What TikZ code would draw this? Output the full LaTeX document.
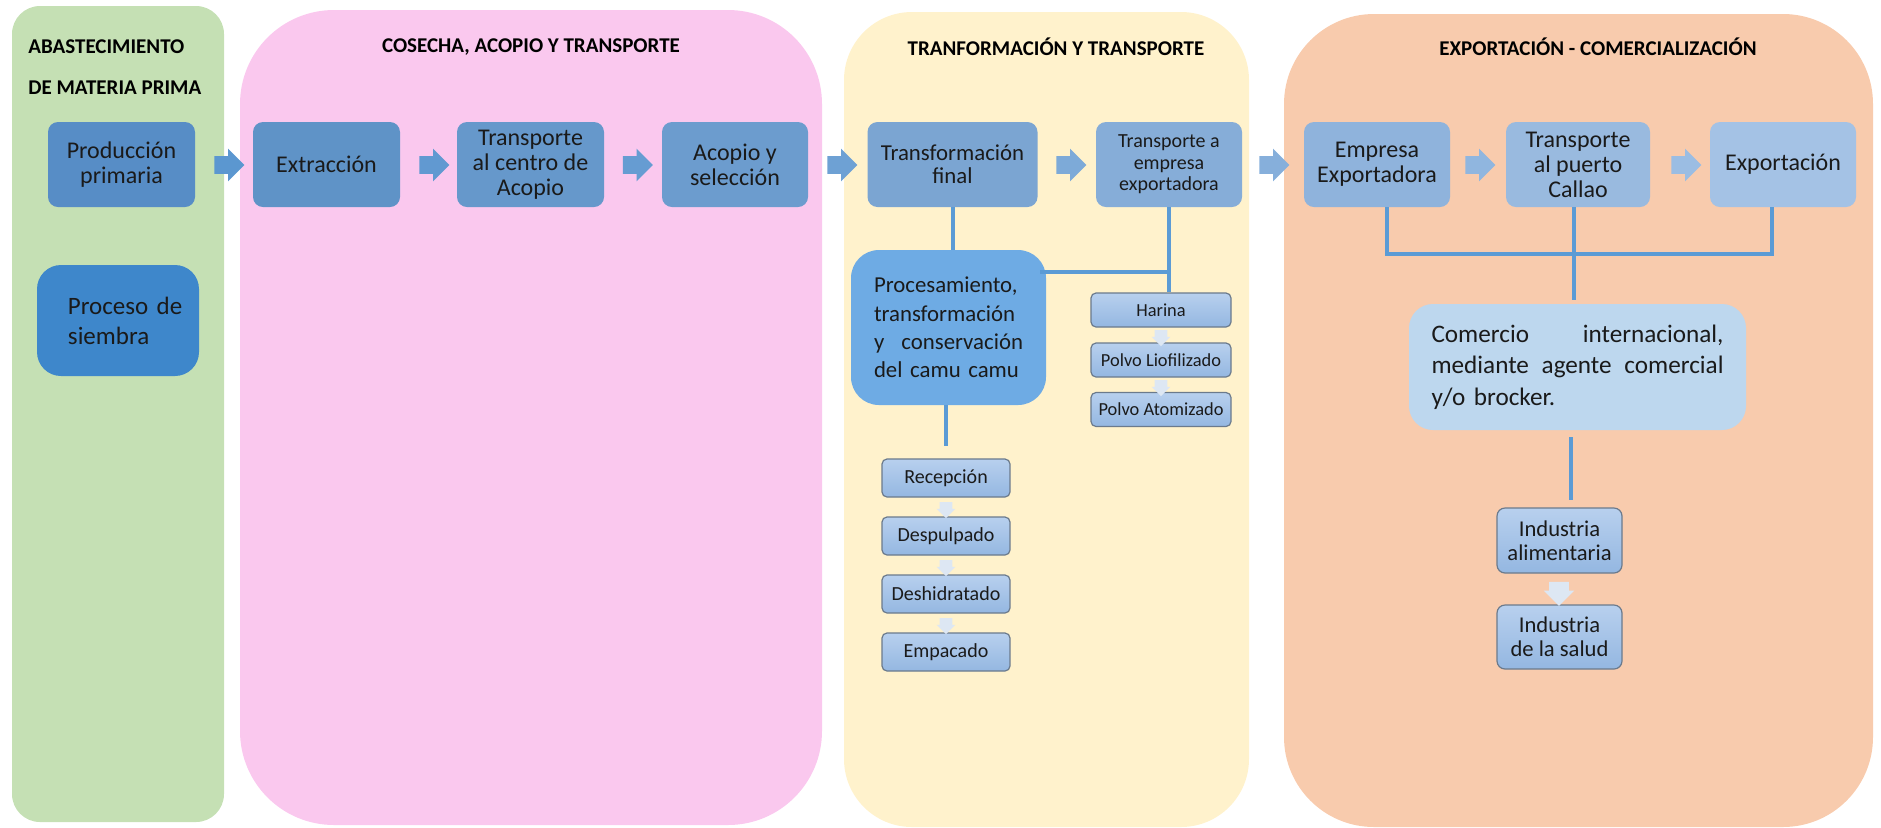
\documentclass[tikz,border=0pt]{standalone}
\usepackage{fontspec}
\setmainfont{Carlito}
\usetikzlibrary{shapes.arrows,calc}
\definecolor{pgreen}{HTML}{C5E0B4}
\definecolor{ppink}{HTML}{FAC8EE}
\definecolor{pyellow}{HTML}{FFF2CC}
\definecolor{porange}{HTML}{F8CBAD}
\definecolor{txt}{HTML}{1A1A1A}
\definecolor{b0}{HTML}{3E87CB}
\definecolor{b1}{HTML}{578DC6}
\definecolor{b2}{HTML}{5F93C7}
\definecolor{b3}{HTML}{6698CB}
\definecolor{b4}{HTML}{6C9CCE}
\definecolor{b5}{HTML}{7BA5D2}
\definecolor{b6}{HTML}{86ADD8}
\definecolor{b7}{HTML}{8FB3DC}
\definecolor{b8}{HTML}{99BADF}
\definecolor{b9}{HTML}{A4C2E5}
\definecolor{bproc}{HTML}{6EABE4}
\definecolor{bcom}{HTML}{BDD7EE}
\definecolor{a1}{HTML}{5B97D0}
\definecolor{a2}{HTML}{6199D1}
\definecolor{a3}{HTML}{669CD2}
\definecolor{a4}{HTML}{6EA1D4}
\definecolor{a5}{HTML}{7DAAD8}
\definecolor{a6}{HTML}{86AFDB}
\definecolor{a7}{HTML}{90B6DF}
\definecolor{a8}{HTML}{9BBDE3}
\definecolor{subtop}{HTML}{B8D0EE}
\definecolor{subbot}{HTML}{94B7E1}
\definecolor{subedge}{HTML}{6B7A8C}
\definecolor{arrpale}{HTML}{DDE7F3}
\definecolor{linkc}{HTML}{5B9BD5}
\tikzset{stage/.style={rectangle,rounded corners=5pt,align=center,inner sep=1pt,text=txt,font=\fontsize{12}{12.5}\selectfont,minimum height=42.5pt},
  sub/.style={rectangle,rounded corners=2.5pt,draw=subedge,line width=0.6pt,top color=subtop,bottom color=subbot,align=center,text=txt,inner sep=1pt},
  harr/.style={single arrow,single arrow head extend=3.75pt,minimum height=15pt,inner xsep=0pt,inner ysep=4.25pt},
  varr/.style={single arrow,rotate=-90,single arrow head extend=1.5pt,minimum height=8pt,inner xsep=0pt,inner ysep=3pt,fill=arrpale},
  link/.style={draw=linkc,line width=2pt},
  ttl/.style={font=\bfseries\fontsize{10.5}{12}\selectfont,text=black,inner sep=0pt}}

\begin{document}
\begin{tikzpicture}[x=0.5pt,y=-0.5pt]
  \useasboundingbox (0,0) rectangle (1881,827);
  % stage panels
  \fill[pgreen,rounded corners=14pt] (12,6) rectangle (224,822);
  \fill[ppink,rounded corners=47pt] (240,10) rectangle (822,825);
  \fill[pyellow,rounded corners=34pt] (844,12) rectangle (1249,827);
  \fill[porange,rounded corners=45pt] (1284,14) rectangle (1873,827);
  \node[ttl,anchor=west] (t1a) at (28,47) {ABASTECIMIENTO};
  \node[ttl,anchor=west] (t1b) at (28,88) {DE MATERIA PRIMA};
  \node[ttl] (t2) at (531,47) {COSECHA, ACOPIO Y TRANSPORTE};
  \node[ttl] (t3) at (1056,47) {TRANFORMACIÓN Y TRANSPORTE};
  \node[ttl] (t4) at (1598,47) {EXPORTACIÓN - COMERCIALIZACIÓN};
  % main row
  \node[stage,fill=b1,minimum width=73.5pt] (prod) at (121.5,164.5) {Producción\\primaria};
  \node[stage,fill=b2,minimum width=73.5pt] (ext) at (326.5,164.5) {Extracción};
  \node[stage,fill=b3,minimum width=73.5pt] (tcen) at (530.5,164.5) {Transporte\\al centro de\\Acopio};
  \node[stage,fill=b4,minimum width=73pt] (acop) at (735,164.5) {Acopio y\\selección};
  \node[stage,fill=b5,minimum width=85pt,font=\fontsize{11.4}{11.4}\selectfont] (tfin) at (952.5,164.5) {Transformación\\final};
  \node[stage,fill=b6,minimum width=73pt,font=\fontsize{10}{10.8}\selectfont] (temp) at (1169,164.5) {Transporte a\\empresa\\exportadora};
  \node[stage,fill=b7,minimum width=73pt] (emp) at (1377,164.5) {Empresa\\Exportadora};
  \node[stage,fill=b8,minimum width=72pt] (callao) at (1578,164.5) {Transporte\\al puerto\\Callao};
  \node[stage,fill=b9,minimum width=73pt] (expo) at (1783,164.5) {Exportación};
  \node[harr,fill=a1] (h1) at (225,165) {};
  \node[harr,fill=a2] (h2) at (430,165) {};
  \node[harr,fill=a3] (h3) at (633.5,165) {};
  \node[harr,fill=a4] (h4) at (838,165) {};
  \node[harr,fill=a5] (h5) at (1067,165) {};
  \node[harr,fill=a6] (h6) at (1270,165) {};
  \node[harr,fill=a7] (h7) at (1476,165) {};
  \node[harr,fill=a8] (h8) at (1682,165) {};
  % second level
  \node[stage,fill=b0,rounded corners=12pt,minimum width=81pt,minimum height=55.5pt,text width=50pt,align=left,font=\fontsize{12.5}{15}\selectfont] (siem) at (118,320.5) {\mbox{Proceso de}\\siembra};
  \node[stage,fill=bproc,rounded corners=14pt,minimum width=97.5pt,minimum height=77.5pt,text width=74.5pt,align=left,font=\fontsize{11.4}{14.2}\selectfont] (proc) at (948.5,327.5) {Procesamiento,\\transformación\\y\hfill conservación\\del camu camu};
  \node[stage,fill=bcom,rounded corners=12pt,minimum width=168.5pt,minimum height=63pt,text width=146pt,align=left,font=\fontsize{12.6}{15.8}\selectfont] (com) at (1577.5,367) {Comercio\hfill internacional,\\mediante\hfill agente\hfill comercial\\y/o brocker.};
  % sub steps
  \node[sub,minimum width=70pt,minimum height=17pt,font=\fontsize{9.2}{11}\selectfont] (har) at (1161,310) {Harina};
  \node[sub,minimum width=70pt,minimum height=17pt,font=\fontsize{9.2}{11}\selectfont] (liof) at (1161,360) {Polvo Liofilizado};
  \node[sub,minimum width=70pt,minimum height=17pt,font=\fontsize{9.2}{11}\selectfont] (atom) at (1161,409.5) {Polvo Atomizado};
  \node[varr] (d1) at (1161,335) {};
  \node[varr] (d2) at (1161,385) {};
  \node[sub,minimum width=64pt,minimum height=19pt,font=\fontsize{10}{12}\selectfont] (rec) at (946,478) {Recepción};
  \node[sub,minimum width=64pt,minimum height=19pt,font=\fontsize{10}{12}\selectfont] (desp) at (946,536) {Despulpado};
  \node[sub,minimum width=64pt,minimum height=19pt,font=\fontsize{10}{12}\selectfont] (desh) at (946,594) {Deshidratado};
  \node[sub,minimum width=64pt,minimum height=19pt,font=\fontsize{10}{12}\selectfont] (emp2) at (946,652) {Empacado};
  \node[varr] (d3) at (946,507) {};
  \node[varr] (d4) at (946,565) {};
  \node[varr] (d5) at (946,623) {};
  \node[sub,rounded corners=4pt,minimum width=62.5pt,minimum height=32.5pt,font=\fontsize{11.3}{11.8}\selectfont] (ind1) at (1559.5,540.5) {Industria\\alimentaria};
  \node[sub,rounded corners=4pt,minimum width=62.5pt,minimum height=32pt,font=\fontsize{11.3}{11.8}\selectfont] (ind2) at (1559.5,637) {Industria\\de la salud};
  \node[varr,minimum height=12pt,inner ysep=4.75pt,single arrow head extend=2.75pt] (d6) at (1559,589) {};
  % links
  \coordinate (j1) at (1169,272);
  \coordinate (bus) at (1574,254);
  \draw[link] (tfin.south) -- (tfin.south |- proc.north);
  \draw[link] (temp.south) -- (temp.south |- har.north);
  \draw[link] ($(proc.north east |- j1)+(-6,0)$) -- (j1);
  \draw[link] (proc.south -| rec.north) -- ($(rec.north)+(0,-12)$);
  \draw[link] ($(emp.south)+(10,0)$) |- (bus) -| ($(expo.south)+(-11,0)$);
  \draw[link] ($(callao.south)+(-4,0)$) -- ($(com.north)+(-3.5,-4)$);
  \draw[link] ($(com.south)+(-6.5,7)$) -- ($(ind1.north)+(11.5,-7)$);
\end{tikzpicture}
\end{document}
